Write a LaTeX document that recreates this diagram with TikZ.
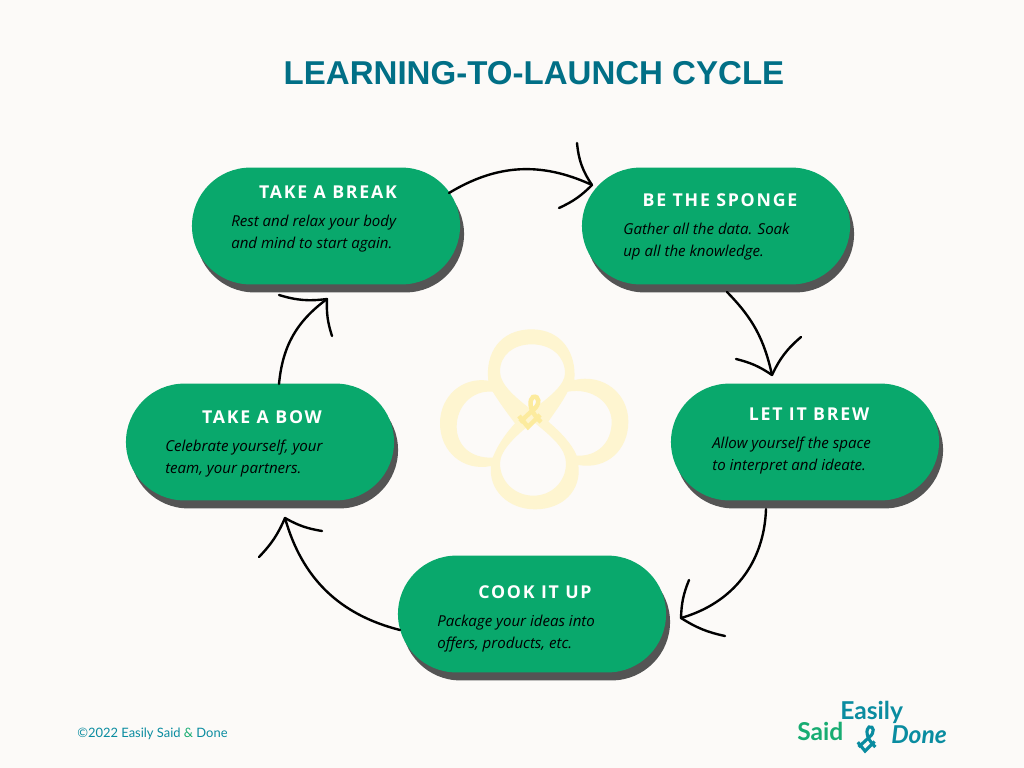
\documentclass[tikz,border=0pt]{standalone}
\usepackage{fontspec}
\setmainfont{Open Sans}
\newfontfamily\headfont{Liberation Sans}[Scale=1]
\newfontfamily\pillfont{Open Sans}[LetterSpace=10]
\newfontfamily\logofont{Lato}
\usetikzlibrary{shapes.misc,shadows}
\definecolor{paper}{HTML}{FCFAF8}
\definecolor{pillgreen}{HTML}{09A86C}
\definecolor{pillshade}{HTML}{545454}
\definecolor{headteal}{HTML}{016F86}
\definecolor{logoteal}{HTML}{0A8CA0}
\definecolor{logogreen}{HTML}{18AC72}
\definecolor{cloverpale}{HTML}{FEF5D0}
\definecolor{cloverdark}{HTML}{FCEB9E}
\tikzset{
  pill/.style={rounded rectangle, fill=pillgreen, minimum width=6.7cm, minimum height=2.92cm,
    inner sep=0pt, drop shadow={shadow xshift=0.1cm, shadow yshift=-0.2cm, opacity=1, fill=pillshade}},
  pilltitle/.style={font=\pillfont\bfseries\fontsize{12.6pt}{15pt}\selectfont, text=white, inner sep=0pt},
  pillbody/.style={font=\itshape\fontsize{10.7pt}{15.6pt}\selectfont, text=black, inner sep=0pt,
    align=left, anchor=north west},
  flow/.style={line width=1.7pt, black, line cap=round, line join=round},
  ampersand/.pic={
    \draw[line width=#1*3.2pt, line cap=butt] (8,10) .. controls (-6,-3) and (-3,-13) .. (0,-15)
      .. controls (6,-17) and (8,-8) .. (0,-2) -- (-13,10);
    \draw[line width=#1*3.2pt] (-14,4) -- (-5,15) -- (7,3);
  }
}
\begin{document}
\begin{tikzpicture}[x=0.025cm,y=-0.025cm]
\useasboundingbox[fill=paper] (0,0) rectangle (1024,768);

% clover
\begin{scope}[shift={(420,310)},x=0.025cm/3,y=-0.025cm/3]
\fill[cloverpale,even odd rule]
  (205,212) .. controls (195,130) and (240,58) .. (335,58)
  .. controls (425,58) and (470,130) .. (463,210)
  .. controls (550,190) and (625,250) .. (625,335)
  .. controls (625,420) and (560,480) .. (475,465)
  .. controls (485,540) and (430,598) .. (345,598)
  .. controls (265,598) and (205,540) .. (213,468)
  .. controls (130,485) and (60,425) .. (60,340)
  .. controls (60,260) and (125,200) .. (205,212) -- cycle
  (335,300) .. controls (290,265) and (240,225) .. (240,185)
  .. controls (240,135) and (280,103) .. (335,103)
  .. controls (395,103) and (435,140) .. (435,190)
  .. controls (435,225) and (385,265) .. (335,300) -- cycle
  (340,335) .. controls (290,375) and (240,420) .. (240,460)
  .. controls (240,515) and (285,557) .. (340,557)
  .. controls (395,557) and (438,515) .. (438,460)
  .. controls (438,415) and (395,380) .. (340,335) -- cycle
  (218,245) .. controls (240,280) and (262,310) .. (285,340)
  .. controls (262,365) and (235,400) .. (218,443)
  .. controls (150,445) and (110,405) .. (110,350)
  .. controls (110,290) and (155,240) .. (218,245) -- cycle
  (443,245) .. controls (425,280) and (405,305) .. (385,335)
  .. controls (420,365) and (455,400) .. (470,437)
  .. controls (530,440) and (575,400) .. (575,335)
  .. controls (575,280) and (520,232) .. (443,245) -- cycle;
\end{scope}
\pic[cloverdark] (midamp) at (533,412) {ampersand=1};

\node[font=\headfont\bfseries\fontsize{23.5pt}{28pt}\selectfont, text=headteal, inner sep=0pt] (heading) at (534,73) {LEARNING-TO-LAUNCH CYCLE};

% pills
\node[pill] (brk) at (326,226) {};
\node[pill] (sponge) at (716,226) {};
\node[pill] (brew) at (805,442) {};
\node[pill] (cook) at (532,614) {};
\node[pill] (bow) at (260,442) {};

\node[pilltitle] (brktitle) at (328,192) {TAKE A BREAK};
\node[pillbody] (brkbody) at (231,215) {Rest and relax your body\\and mind to start again.};
\node[pilltitle] (spongetitle) at (720,200) {BE THE SPONGE};
\node[pillbody] (spongebody) at (623,223) {Gather all the data. Soak\\up all the knowledge.};
\node[pilltitle] (brewtitle) at (809,414) {LET IT BREW};
\node[pillbody] (brewbody) at (712,437) {Allow yourself the space\\to interpret and ideate.};
\node[pilltitle] (cooktitle) at (535,592) {COOK IT UP};
\node[pillbody] (cookbody) at (437,615) {Package your ideas into\\offers, products, etc.};
\node[pilltitle] (bowtitle) at (262,417) {TAKE A BOW};
\node[pillbody] (bowbody) at (165,440) {Celebrate yourself, your\\team, your partners.};

% arrows
\coordinate (a1) at (449,193);
\coordinate (a1tip) at (592,185);
\coordinate (a1u) at (577,143);
\coordinate (a1d) at (559,208);
\coordinate (a2) at (727,292);
\coordinate (a2tip) at (772,375);
\coordinate (a2u) at (736,359);
\coordinate (a2d) at (801,337);
\coordinate (a3) at (766,509);
\coordinate (a3tip) at (681,618);
\coordinate (a3u) at (689,580);
\coordinate (a3d) at (725,636);
\coordinate (a4) at (400,630);
\coordinate (a4tip) at (285,518);
\coordinate (a4u) at (259,557);
\coordinate (a4d) at (322,531);
\coordinate (a5) at (279,384);
\coordinate (a5tip) at (327,299);
\coordinate (a5u) at (279,295);
\coordinate (a5d) at (332,336);

\draw[flow] (a1) to[bend left=28] (a1tip);
\draw[flow] (a1u) to[bend right=14] (a1tip);
\draw[flow] (a1d) to[bend right=10] (a1tip);
\draw[flow] (a2) to[bend left=16] (a2tip);
\draw[flow] (a2u) to[bend left=10] (a2tip);
\draw[flow] (a2d) to[bend right=12] (a2tip);
\draw[flow] (a3) to[bend left=36] (a3tip);
\draw[flow] (a3u) to[bend right=10] (a3tip);
\draw[flow] (a3d) to[bend left=10] (a3tip);
\draw[flow] (a4) to[bend left=30] (a4tip);
\draw[flow] (a4u) to[bend right=10] (a4tip);
\draw[flow] (a4d) to[bend left=10] (a4tip);
\draw[flow] (a5) to[bend left=24] (a5tip);
\draw[flow] (a5u) to[bend right=12] (a5tip);
\draw[flow] (a5d) to[bend left=10] (a5tip);

% footer
\node[font=\logofont\fontsize{9.2pt}{11pt}\selectfont, text=logoteal, anchor=west, inner sep=0pt] (copy) at (77,734) {©2022 Easily Said {\color{logogreen}\&} Done};
\node[font=\logofont\bfseries\fontsize{17.5pt}{20pt}\selectfont, text=logogreen, anchor=west, inner sep=0pt] (said) at (797,731) {Said};
\node[font=\logofont\bfseries\fontsize{17.5pt}{20pt}\selectfont, text=logoteal, anchor=west, inner sep=0pt] (easily) at (840,712) {Easily};
\node[font=\logofont\bfseries\itshape\fontsize{17.5pt}{20pt}\selectfont, text=logoteal, anchor=west, inner sep=0pt] (done) at (891,735) {Done};
\pic[logoteal,scale=0.8] (logoamp) at (869,739) {ampersand=0.7};
\end{tikzpicture}
\end{document}
